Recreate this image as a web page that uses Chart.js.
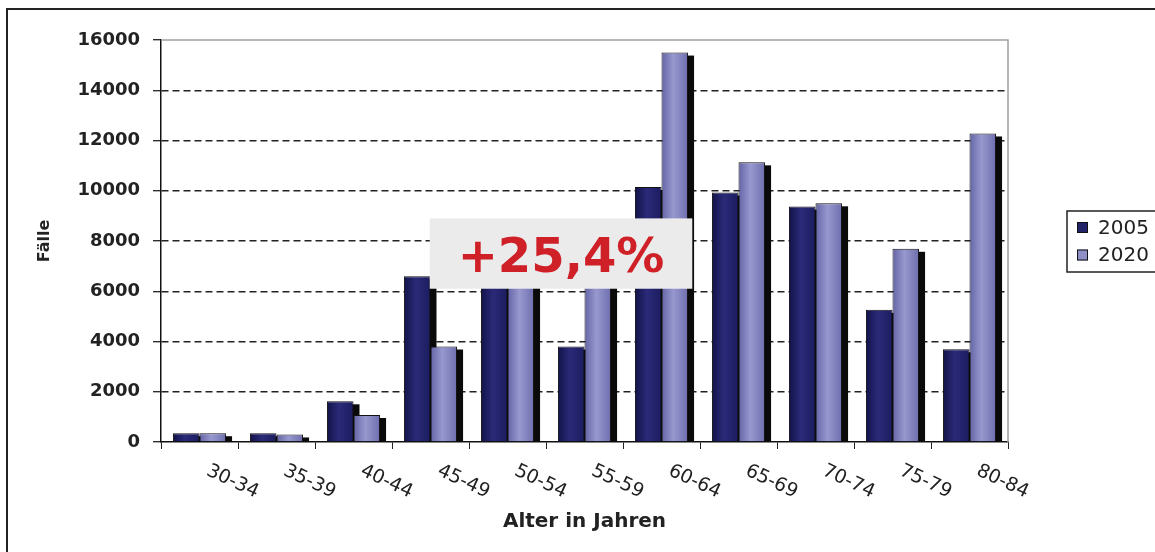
<!DOCTYPE html>
<html>
<head>
<meta charset="utf-8">
<script src="https://cdn.jsdelivr.net/npm/chart.js@4/dist/chart.umd.min.js"></script>
<style>
  html, body { margin: 0; padding: 0; background: #ffffff; }
  #wrap { width: 1155px; height: 552px; position: relative; }
</style>
</head>
<body>
<div id="wrap"><canvas id="c" width="1155" height="552"></canvas></div>
<script>
// ---- data ----
const categories = ['30-34', '35-39', '40-44', '45-49', '50-54', '55-59', '60-64', '65-69', '70-74', '75-79', '80-84'];
const values2005 = [350, 350, 1620, 6600, 7000, 3800, 10150, 9930, 9370, 5260, 3690];
const values2020 = [350, 300, 1075, 3800, 7600, 7200, 15500, 11130, 9500, 7690, 12280];
const seriesLabels = ['2005', '2020'];
const yMin = 0, yMax = 16000, yStep = 2000;
const annotationText = '+25,4%';
// annotation box in data units (category index, value)
const annotationX = [2.99, 6.40];
const annotationY = [6100, 8900];
const xTitle = 'Alter in Jahren';
const yTitle = 'Fälle';

const FONT = 'DejaVu Sans';

function makeGradient(ctx, stops, fallback) {
  const chart = ctx.chart;
  const meta = chart.getDatasetMeta(ctx.datasetIndex);
  const el = meta && meta.data ? meta.data[ctx.dataIndex] : null;
  if (!el || !isFinite(el.x) || !isFinite(el.width)) return fallback;
  const g = chart.ctx.createLinearGradient(el.x - el.width / 2, 0, el.x + el.width / 2, 0);
  stops.forEach(s => g.addColorStop(s[0], s[1]));
  return g;
}

const shadowPlugin = {
  id: 'barShadow',
  beforeDatasetsDraw(chart) {
    const ctx = chart.ctx;
    ctx.save();
    ctx.fillStyle = '#0a0a0a';
    chart.data.datasets.forEach((ds, di) => {
      const meta = chart.getDatasetMeta(di);
      meta.data.forEach(el => {
        const p = el.getProps(['x', 'y', 'base', 'width'], true);
        const h = p.base - p.y - 3;
        if (h > 0) ctx.fillRect(p.x - p.width / 2 + 6, p.y + 3, p.width, h);
      });
    });
    ctx.restore();
  }
};

const decorPlugin = {
  id: 'decor',
  afterDatasetsDraw(chart) {
    const ctx = chart.ctx;
    const a = chart.chartArea;
    const xs = chart.scales.x, ys = chart.scales.y;
    // plot area top/right border (grey)
    ctx.save();
    ctx.strokeStyle = '#a0a0a0';
    ctx.lineWidth = 1.5;
    ctx.beginPath();
    ctx.moveTo(a.left, a.top);
    ctx.lineTo(a.right, a.top);
    ctx.lineTo(a.right, a.bottom);
    ctx.stroke();
    ctx.restore();
    // annotation box
    const x1 = xs.getPixelForValue(annotationX[0]);
    const x2 = xs.getPixelForValue(annotationX[1]);
    const y1 = ys.getPixelForValue(annotationY[1]);
    const y2 = ys.getPixelForValue(annotationY[0]);
    ctx.save();
    ctx.fillStyle = '#ebebeb';
    ctx.fillRect(x1, y1, x2 - x1, y2 - y1);
    ctx.fillStyle = '#cf2027';
    ctx.font = 'bold 48px "' + FONT + '"';
    ctx.textAlign = 'center';
    ctx.textBaseline = 'alphabetic';
    ctx.fillText(annotationText, (x1 + x2) / 2, y2 - 17);
    ctx.restore();
  },
  afterDraw(chart) {
    const ctx = chart.ctx;
    const a = chart.chartArea;
    const xs = chart.scales.x;
    // rotated category labels
    ctx.save();
    ctx.fillStyle = '#222222';
    ctx.font = '19px "' + FONT + '"';
    ctx.textAlign = 'left';
    ctx.textBaseline = 'middle';
    categories.forEach((lab, i) => {
      const cx = xs.getPixelForValue(i);
      ctx.save();
      ctx.translate(cx + 8, a.bottom + 28);
      ctx.rotate(25 * Math.PI / 180);
      ctx.fillText(lab, 0, 0);
      ctx.restore();
    });
    ctx.restore();
    // legend
    const lx = a.right + 59, ly = (a.top + a.bottom) / 2 - 30;
    ctx.save();
    ctx.strokeStyle = '#222';
    ctx.lineWidth = 1.5;
    ctx.strokeRect(lx, ly, 200, 61);
    ctx.font = '20px "' + FONT + '"';
    ctx.textAlign = 'left';
    ctx.textBaseline = 'middle';
    const legendFill = ['#232368', '#8f8fc8'];
    chart.data.datasets.forEach((ds, i) => {
      const cy = ly + 16.5 + i * 27.5;
      ctx.fillStyle = legendFill[i];
      ctx.fillRect(lx + 10, cy - 5.5, 11, 11);
      ctx.strokeStyle = '#111';
      ctx.lineWidth = 1;
      ctx.strokeRect(lx + 10.5, cy - 5, 10, 10);
      ctx.fillStyle = '#222';
      ctx.fillText(ds.label, lx + 31, cy + 1);
    });
    ctx.restore();
    // outer frame
    ctx.save();
    ctx.strokeStyle = '#222';
    ctx.lineWidth = 2;
    ctx.strokeRect(7, 9, 1400, 800);
    ctx.restore();
  }
};

const chart = new Chart(document.getElementById('c'), {
  type: 'bar',
  data: {
    labels: categories,
    datasets: [
      {
        label: seriesLabels[0],
        data: values2005,
        backgroundColor: c => makeGradient(c, [[0, '#12124a'], [0.45, '#2a2a78'], [1, '#1c1c60']], '#232368'),
        borderColor: '#111111',
        borderWidth: 1,
        categoryPercentage: 0.69,
        barPercentage: 1.0
      },
      {
        label: seriesLabels[1],
        data: values2020,
        backgroundColor: c => makeGradient(c, [[0, '#6464a6'], [0.45, '#9898cf'], [1, '#6e6eae']], '#8f8fc8'),
        borderColor: '#111111',
        borderWidth: 1,
        categoryPercentage: 0.69,
        barPercentage: 1.0
      }
    ]
  },
  options: {
    responsive: false,
    devicePixelRatio: 1,
    animation: false,
    layout: { padding: { left: 8, top: 40, right: 147, bottom: 0 } },
    plugins: {
      legend: { display: false },
      tooltip: { enabled: false }
    },
    scales: {
      x: {
        offset: true,
        grid: {
          display: true,
          drawOnChartArea: false,
          drawTicks: true,
          tickLength: 7,
          color: '#222222',
          offset: true
        },
        border: { display: true, color: '#111111', width: 1.5 },
        ticks: { display: false },
        title: {
          display: true,
          text: xTitle,
          color: '#222222',
          font: { family: FONT, size: 20, weight: 'bold' },
          padding: { top: 0, bottom: 18 }
        },
        afterFit(scale) { scale.height = 110; }
      },
      y: {
        min: yMin,
        max: yMax,
        ticks: {
          stepSize: yStep,
          color: '#222222',
          padding: 13,
          font: { family: FONT, size: 18, weight: 'bold' },
          callback: v => String(v)
        },
        grid: {
          color: c => (c.tick && (c.tick.value === yMin || c.tick.value === yMax)) ? 'rgba(0,0,0,0)' : '#222222',
          lineWidth: 1.4,
          tickColor: '#222222',
          tickLength: 8,
          tickWidth: 1.3
        },
        border: { display: true, color: '#111111', width: 1.5, dash: [7, 4] },
        title: {
          display: true,
          text: yTitle,
          color: '#222222',
          font: { family: FONT, size: 16, weight: 'bold' },
          padding: { top: 27, bottom: 0 }
        },
        afterFit(scale) { scale.width = 153; }
      }
    }
  },
  plugins: [shadowPlugin, decorPlugin]
});
chart.update('none');
</script>
</body>
</html>
